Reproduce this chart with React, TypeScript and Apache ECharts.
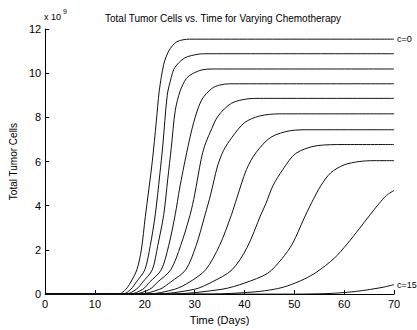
import { useEffect, useRef } from "react";
import * as echarts from "echarts";

// Total tumour cells (x 10^9) against time in days, one curve per chemotherapy dose c.
const doseLabels = ["c=0", "c=1.5", "c=3", "c=4.5", "c=6", "c=7.5", "c=9", "c=10.5", "c=12", "c=13.5", "c=15"];

const doseC0: number[][] = [[0, 0], [14.8, 0], [16.2, 0.22], [17.1, 0.51], [18.4, 1.1], [19.3, 2.0], [20.1, 3.5], [21.5, 6.0], [22.3, 7.8], [22.9, 9.2], [23.8, 10.4], [24.8, 11.0], [26.4, 11.42], [29, 11.54], [70, 11.54]];
const doseC1: number[][] = [[0, 0], [15.6, 0], [17.2, 0.22], [18.3, 0.55], [20.0, 1.1], [21.1, 2.2], [22.1, 3.6], [23.0, 5.4], [23.6, 6.7], [24.5, 9.0], [25.3, 9.8], [26.0, 10.25], [28.0, 10.69], [30.7, 10.86], [32, 10.88], [70, 10.88]];
const doseC2: number[][] = [[0, 0], [16.2, 0], [18.3, 0.22], [19.6, 0.55], [21.5, 1.1], [22.6, 2.2], [23.8, 3.6], [24.6, 5.2], [25.3, 6.6], [26.1, 8.3], [27.1, 9.2], [28.3, 9.75], [29.6, 9.98], [31.5, 10.15], [33.5, 10.19], [70, 10.19]];
const doseC3: number[][] = [[0, 0], [17, 0], [19.6, 0.22], [21, 0.55], [23.3, 1.1], [24.8, 2.2], [26.1, 3.6], [27.0, 4.8], [28.4, 6.4], [29.8, 7.76], [31.4, 8.79], [33.4, 9.3], [35, 9.46], [37, 9.52], [70, 9.52]];
const doseC4: number[][] = [[0, 0], [17.8, 0], [21, 0.22], [22.6, 0.55], [25.2, 1.1], [27.2, 2.2], [29.1, 3.6], [30.0, 4.5], [31.3, 6.1], [32.0, 6.7], [33.1, 7.32], [34.7, 8.06], [37.4, 8.64], [40.7, 8.84], [43, 8.86], [70, 8.86]];
const doseC5: number[][] = [[0, 0], [18.8, 0], [23, 0.22], [25.2, 0.55], [28.2, 1.1], [30.3, 2.2], [32.1, 3.6], [33.2, 4.5], [34.6, 5.8], [35.8, 6.5], [37.5, 7.1], [40, 7.76], [43, 8.06], [47, 8.16], [70, 8.16]];
const doseC6: number[][] = [[0, 0], [20.5, 0], [26, 0.22], [29, 0.55], [32.2, 1.1], [35, 2.2], [37.4, 3.6], [38.4, 4.3], [40.4, 5.64], [42.3, 6.4], [45.3, 7.1], [49.3, 7.4], [53, 7.44], [70, 7.44]];
const doseC7: number[][] = [[0, 0], [22, 0], [30, 0.22], [33.5, 0.55], [37.5, 1.1], [40.5, 2.1], [43.3, 3.6], [44.3, 4.1], [45.7, 4.9], [47.7, 5.64], [50.3, 6.37], [54.6, 6.72], [60, 6.77], [70, 6.77]];
const doseC8: number[][] = [[0, 0], [25, 0], [35.5, 0.22], [40, 0.5], [44.7, 0.95], [47.5, 1.6], [49.6, 2.27], [52, 3.45], [53.5, 4.15], [55.3, 4.9], [57.3, 5.49], [60, 5.85], [63, 6.0], [66, 6.04], [70, 6.04]];
const doseC9: number[][] = [[0, 0], [33, 0], [42, 0.1], [46, 0.22], [48.6, 0.37], [52, 0.68], [54.5, 1.0], [58, 1.62], [60.6, 2.27], [63, 2.95], [65.2, 3.59], [67, 4.1], [68.5, 4.47], [70, 4.69]];
const doseC10: number[][] = [[0, 0], [50, 0], [56, 0.02], [60, 0.07], [63, 0.14], [66, 0.24], [68, 0.32], [70, 0.43]];

const curves = [doseC0, doseC1, doseC2, doseC3, doseC4, doseC5, doseC6, doseC7, doseC8, doseC9, doseC10];

const dayTicks = [0, 10, 20, 30, 40, 50, 60, 70];
const cellTicks = [0, 2, 4, 6, 8, 10, 12];

const FONT = "'Liberation Sans', Arial, sans-serif";

export default function App() {
  const ref = useRef<HTMLDivElement>(null);

  useEffect(() => {
    if (!ref.current) return;
    const chart = echarts.init(ref.current, undefined, { renderer: "svg" });
    const last = curves.length - 1;

    chart.setOption({
      animation: false,
      backgroundColor: "#fff",
      title: {
        text: "Total Tumor Cells vs. Time for Varying Chemotherapy",
        left: 218,
        top: 8,
        textAlign: "center",
        textStyle: { fontFamily: FONT, fontSize: 10, fontWeight: "normal", color: "#000" },
      },
      graphic: [
        { type: "text", left: 44, top: 12, style: { text: "x 10", font: `9px ${FONT}`, fill: "#000" } },
        { type: "text", left: 63, top: 8, style: { text: "9", font: `7px ${FONT}`, fill: "#000" } },
      ],
      grid: { left: 42, right: 23, top: 29, bottom: 28 },
      xAxis: {
        type: "value",
        min: dayTicks[0],
        max: dayTicks[dayTicks.length - 1],
        interval: 10,
        name: "Time (Days)",
        nameLocation: "middle",
        nameGap: 15,
        nameTextStyle: { fontFamily: FONT, fontSize: 11, color: "#000" },
        axisLine: { lineStyle: { color: "#000", width: 1 } },
        axisTick: { inside: true, length: 4, lineStyle: { color: "#000" } },
        axisLabel: { fontFamily: FONT, fontSize: 11, color: "#000", margin: 4 },
        splitLine: { show: false },
      },
      yAxis: {
        type: "value",
        min: cellTicks[0],
        max: cellTicks[cellTicks.length - 1],
        interval: 2,
        name: "Total Tumor Cells",
        nameLocation: "middle",
        nameGap: 22,
        nameRotate: 90,
        nameTextStyle: { fontFamily: FONT, fontSize: 10, color: "#000" },
        axisLine: { show: true, lineStyle: { color: "#000", width: 1 } },
        axisTick: { show: true, inside: true, length: 4, lineStyle: { color: "#000" } },
        axisLabel: { fontFamily: FONT, fontSize: 11, color: "#000", margin: 4 },
        splitLine: { show: false },
      },
      series: curves.map((data, i) => ({
        type: "line",
        name: doseLabels[i],
        data,
        smooth: 0.3,
        showSymbol: false,
        clip: true,
        lineStyle: { color: "#111", width: 1 },
        endLabel:
          i === 0 || i === last
            ? {
                show: true,
                formatter: doseLabels[i],
                distance: 3,
                fontFamily: FONT,
                fontSize: 9,
                color: "#000",
              }
            : { show: false },
      })),
    });

    return () => chart.dispose();
  }, []);

  return (
    <div
      ref={ref}
      style={{ position: "fixed", left: 0, top: 0, width: 417, height: 330 }}
    />
  );
}
